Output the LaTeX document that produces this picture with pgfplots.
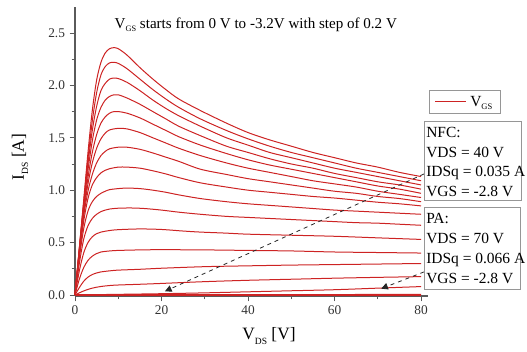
\documentclass[border=0pt]{standalone}
\usepackage{fontspec}
\setmainfont{Liberation Serif}
\usepackage{pgfplots}
\pgfplotsset{compat=1.18}
\usetikzlibrary{arrows.meta}
\definecolor{curve}{RGB}{205,35,35}
\definecolor{axgray}{RGB}{90,90,90}
\definecolor{boxgray}{RGB}{150,150,150}
\newcommand{\sub}[1]{\raisebox{-0.55ex}{\fontsize{0.55em}{0.6em}\selectfont #1}}
\newcommand{\px}[2]{({(#1-75)*0.75pt},{(296-#2)*0.75pt})}
\begin{document}
\begin{tikzpicture}
\useasboundingbox (-56.25pt,-41.25pt) rectangle (339pt,222pt);
\begin{axis}[
 scale only axis, width=264.375pt, height=216.9pt,
 xmin=0, xmax=81.5, ymin=-0.01, ymax=2.75,
 axis x line*=bottom, axis y line*=left,
 xtick={0,20,40,60,80}, ytick={0,0.5,1,1.5,2,2.5},
 minor x tick num=1, minor y tick num=1,
 tick align=outside, major tick length=4pt, minor tick length=2.5pt,
 tick style={axgray, line width=0.6pt},
 axis line style={axgray, line width=0.8pt},
 ticklabel style={font=\fontsize{10pt}{11pt}\selectfont, text=black!80},
 xticklabel={\pgfmathprintnumber[assume math mode=true]{\tick}},
 yticklabel={\pgfmathprintnumber[assume math mode=true,fixed,fixed zerofill,precision=1]{\tick}},
 clip=false,
 cv/.style={curve, line width=0.75pt, smooth, solid, mark=none},
]
% c1
\addplot[cv] coordinates {(0,0)(1,0.45)(2,0.9)(3,1.36)(4,1.76)(5,2.05)(6,2.22)(7,2.31)(8,2.35)(9,2.36)(10,2.35)(12,2.29)(15,2.17)(18,2.06)(21,1.96)(24,1.87)(29,1.76)(35,1.64)(40,1.55)(45,1.48)(50,1.42)(55,1.36)(60,1.31)(65,1.26)(70,1.22)(75,1.17)(80,1.13)};
% c2
\addplot[cv] coordinates {(0,0)(1,0.44)(2,0.88)(3,1.3)(4,1.66)(5,1.93)(6,2.1)(7,2.18)(8,2.215)(9,2.22)(10,2.21)(12,2.16)(15,2.06)(18,1.96)(21,1.87)(24,1.79)(29,1.68)(35,1.57)(40,1.49)(45,1.42)(50,1.36)(55,1.31)(60,1.26)(65,1.21)(70,1.17)(75,1.13)(80,1.09)};
% c3
\addplot[cv] coordinates {(0,0)(1,0.44)(2,0.86)(3,1.25)(4,1.57)(5,1.8)(6,1.95)(7,2.02)(8,2.06)(9,2.07)(10,2.065)(12,2.03)(15,1.95)(18,1.86)(21,1.78)(24,1.71)(29,1.61)(35,1.5)(40,1.43)(45,1.36)(50,1.31)(55,1.26)(60,1.21)(65,1.17)(70,1.13)(75,1.09)(80,1.05)};
% c4
\addplot[cv] coordinates {(0,0)(1,0.43)(2,0.84)(3,1.19)(4,1.47)(5,1.67)(6,1.79)(7,1.86)(8,1.895)(9,1.91)(10,1.91)(12,1.88)(15,1.82)(18,1.75)(21,1.68)(24,1.61)(29,1.52)(35,1.42)(40,1.36)(45,1.3)(50,1.25)(55,1.21)(60,1.16)(65,1.12)(70,1.08)(75,1.05)(80,1.01)};
% c5
\addplot[cv] coordinates {(0,0)(1,0.42)(2,0.81)(3,1.12)(4,1.36)(5,1.53)(6,1.64)(7,1.7)(8,1.735)(9,1.75)(10,1.75)(12,1.735)(15,1.69)(18,1.63)(21,1.57)(24,1.51)(29,1.43)(35,1.35)(40,1.29)(45,1.24)(50,1.2)(55,1.16)(60,1.12)(65,1.08)(70,1.04)(75,1.01)(80,0.97)};
% c6
\addplot[cv] coordinates {(0,0)(1,0.41)(2,0.78)(3,1.06)(4,1.26)(5,1.4)(6,1.49)(7,1.545)(8,1.575)(10,1.59)(12,1.585)(15,1.55)(18,1.5)(21,1.45)(24,1.4)(29,1.33)(35,1.26)(40,1.21)(45,1.17)(50,1.13)(55,1.09)(60,1.06)(65,1.03)(70,0.99)(75,0.96)(80,0.93)};
% c7
\addplot[cv] coordinates {(0,0)(1,0.4)(2,0.75)(3,0.99)(4,1.15)(5,1.26)(6,1.33)(7,1.37)(8,1.395)(10,1.41)(12,1.41)(15,1.39)(18,1.355)(21,1.315)(24,1.275)(29,1.2)(35,1.15)(40,1.11)(45,1.08)(50,1.05)(55,1.02)(60,0.99)(65,0.97)(70,0.94)(75,0.92)(80,0.89)};
% c8
\addplot[cv] coordinates {(0,0)(1,0.38)(2,0.7)(3,0.92)(4,1.05)(5,1.12)(6,1.165)(7,1.19)(8,1.205)(10,1.22)(12,1.22)(15,1.21)(18,1.185)(21,1.155)(24,1.12)(29,1.07)(35,1.03)(40,1.0)(45,0.98)(50,0.96)(55,0.94)(60,0.925)(65,0.905)(70,0.885)(75,0.87)(80,0.85)};
% c9
\addplot[cv] coordinates {(0,0)(1,0.35)(2,0.63)(3,0.8)(4,0.89)(5,0.94)(6,0.97)(7,0.99)(8,1.005)(10,1.015)(12,1.02)(15,1.015)(18,1.0)(21,0.98)(24,0.955)(29,0.92)(35,0.89)(40,0.87)(45,0.855)(50,0.84)(55,0.825)(60,0.81)(65,0.8)(70,0.79)(75,0.78)(80,0.77)};
% c10
\addplot[cv] coordinates {(0,0)(1,0.3)(2,0.53)(3,0.66)(4,0.73)(5,0.77)(6,0.795)(7,0.81)(8,0.82)(10,0.828)(13,0.83)(16,0.825)(20,0.81)(24,0.79)(29,0.77)(35,0.75)(40,0.74)(45,0.73)(50,0.72)(55,0.71)(60,0.7)(65,0.69)(70,0.685)(75,0.675)(80,0.665)};
% c11
\addplot[cv] coordinates {(0,0)(1,0.23)(2,0.4)(3,0.5)(4,0.555)(5,0.585)(6,0.6)(8,0.615)(10,0.623)(15,0.63)(20,0.625)(25,0.61)(29,0.6)(35,0.59)(40,0.58)(50,0.57)(60,0.56)(70,0.545)(80,0.53)};
% c12
\addplot[cv] coordinates {(0,0)(1,0.15)(2,0.26)(3,0.33)(4,0.37)(5,0.395)(6,0.41)(8,0.42)(10,0.425)(15,0.43)(20,0.432)(30,0.43)(40,0.425)(50,0.42)(60,0.41)(70,0.405)(80,0.4)};
% c13
\addplot[cv] coordinates {(0,0)(1,0.07)(2,0.13)(3,0.17)(4,0.195)(5,0.21)(6,0.22)(8,0.23)(10,0.237)(15,0.245)(20,0.255)(30,0.27)(40,0.278)(50,0.285)(60,0.29)(70,0.295)(80,0.3)};
% c14
\addplot[cv] coordinates {(0,0)(1,0.02)(2,0.038)(3,0.053)(4,0.065)(5,0.074)(6,0.081)(8,0.09)(10,0.095)(15,0.102)(20,0.11)(30,0.127)(40,0.14)(50,0.15)(60,0.16)(70,0.168)(80,0.175)};
% c15
\addplot[cv] coordinates {(0,0)(5,0.003)(10,0.006)(20,0.012)(30,0.02)(40,0.03)(50,0.04)(60,0.05)(70,0.065)(80,0.08)};
% c16
\addplot[cv] coordinates {(0,0)(40,0.002)(80,0.006)};
% c17
\addplot[cv, line width=1.2pt] coordinates {(0,0)(80,0)};
% annotation arrows
\addplot[black!85, dashed, line width=0.6pt, sharp plot, mark=none, -{Triangle[length=5pt,width=5pt]}] coordinates {(80.7,1.155)(20.8,0.035)};
\addplot[black!85, dashed, line width=0.6pt, sharp plot, mark=none, -{Triangle[length=5pt,width=5pt]}] coordinates {(80.7,0.22)(70.8,0.06)};
\end{axis}
% labels
\node[font=\fontsize{13pt}{14pt}\selectfont] at \px{269}{336} {V\sub{DS} [V]};
\node[font=\fontsize{13pt}{14pt}\selectfont, rotate=90] at \px{20}{157} {I\sub{DS} [A]};
\node[anchor=base west, font=\fontsize{11.3pt}{12pt}\selectfont] at \px{110}{28} {V\sub{GS} starts from 0 V to -3.2V with step of 0.2 V};
% legend
\draw[boxgray, fill=white, line width=0.6pt] \px{429}{90} rectangle \px{500}{113};
\draw[curve, line width=0.75pt] \px{435}{101} -- \px{466}{101};
\node[anchor=base west, inner sep=0pt, font=\fontsize{11.6pt}{12pt}\selectfont] at \px{470}{106} {V\sub{GS}};
% NFC box
\draw[boxgray, fill=white, line width=0.6pt] \px{424}{121} rectangle \px{521}{200};
\begin{scope}[every node/.style={anchor=base west, inner sep=0pt, font=\fontsize{11.6pt}{12pt}\selectfont}]
\node at \px{426}{137} {NFC:};
\node at \px{426}{157} {VDS = 40 V};
\node at \px{426}{176.5} {IDSq = 0.035 A};
\node at \px{426}{196} {VGS = -2.8 V};
\end{scope}
% PA box
\draw[boxgray, fill=white, line width=0.6pt] \px{424}{207} rectangle \px{520}{289};
\begin{scope}[every node/.style={anchor=base west, inner sep=0pt, font=\fontsize{11.6pt}{12pt}\selectfont}]
\node at \px{426}{223} {PA:};
\node at \px{426}{243} {VDS = 70 V};
\node at \px{426}{263} {IDSq = 0.066 A};
\node at \px{426}{283} {VGS = -2.8 V};
\end{scope}
\end{tikzpicture}
\end{document}
